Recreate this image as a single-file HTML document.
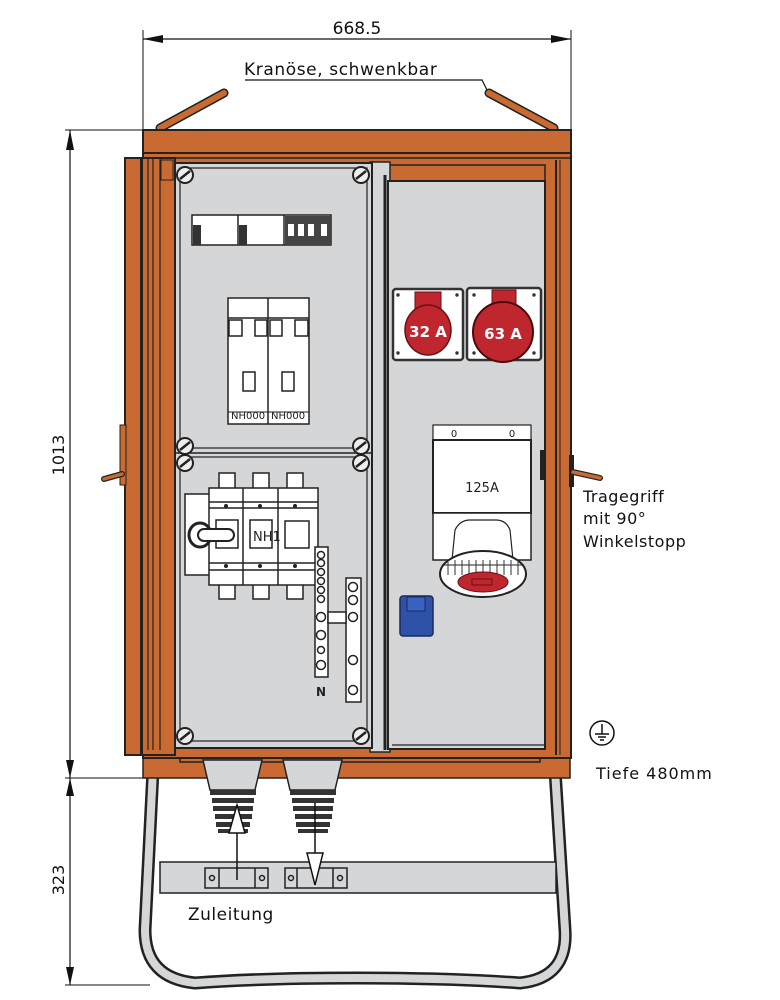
<!DOCTYPE html>
<html><head><meta charset="utf-8"><style>
html,body{margin:0;padding:0;background:#fff}
svg{display:block}
text{font-family:"DejaVu Sans","Liberation Sans",sans-serif}
</style></head><body>
<svg width="780" height="1000" viewBox="0 0 780 1000" xmlns="http://www.w3.org/2000/svg">
<defs>
<g id="scr"><circle r="8" fill="#eee" stroke="#222" stroke-width="2"/><line x1="-5" y1="4" x2="5" y2="-4" stroke="#222" stroke-width="2.5"/></g>
</defs>
<!-- dimension top -->
<line x1="143" y1="39" x2="571" y2="39" stroke="#111" stroke-width="1.2"/>
<polygon points="143,39 163,35 163,43" fill="#111"/>
<polygon points="571,39 551,35 551,43" fill="#111"/>
<line x1="143" y1="30" x2="143" y2="130" stroke="#111" stroke-width="1"/>
<line x1="571" y1="30" x2="571" y2="130" stroke="#111" stroke-width="1"/>
<text x="357" y="34" font-size="17" text-anchor="middle" fill="#111">668.5</text>
<text x="244" y="75" font-size="17" fill="#111" letter-spacing="0.6">Kranöse, schwenkbar</text>
<polyline points="245,80 482,80 487,90" fill="none" stroke="#111" stroke-width="1.2"/>
<!-- lugs -->
<line x1="160" y1="128" x2="224" y2="93" stroke="#222" stroke-width="9" stroke-linecap="round"/>
<line x1="160" y1="128" x2="224" y2="93" stroke="#c96a32" stroke-width="6" stroke-linecap="round"/>
<line x1="489" y1="93" x2="554" y2="128" stroke="#222" stroke-width="9" stroke-linecap="round"/>
<line x1="489" y1="93" x2="554" y2="128" stroke="#c96a32" stroke-width="6" stroke-linecap="round"/>
<!-- left dims -->
<line x1="65" y1="130" x2="143" y2="130" stroke="#111" stroke-width="1"/>
<line x1="70" y1="130" x2="70" y2="985" stroke="#111" stroke-width="1.2"/>
<polygon points="70,130 66,150 74,150" fill="#111"/>
<polygon points="70,778 66,760 74,760" fill="#111"/>
<polygon points="70,778 66,796 74,796" fill="#111"/>
<polygon points="70,985 66,967 74,967" fill="#111"/>
<line x1="65" y1="778" x2="145" y2="778" stroke="#111" stroke-width="1"/>
<line x1="65" y1="985" x2="150" y2="985" stroke="#111" stroke-width="1"/>
<text transform="translate(64,455) rotate(-90)" font-size="16" text-anchor="middle" fill="#111">1013</text>
<text transform="translate(64,880) rotate(-90)" font-size="16" text-anchor="middle" fill="#111">323</text>
<!-- stand tube -->
<path d="M153,770 L145,930 Q145,978 195,983 Q260,978 357,978 Q455,978 520,983 Q568,978 565,930 L555,770" fill="none" stroke="#222" stroke-width="13" stroke-linejoin="round"/>
<path d="M153,770 L145,930 Q145,978 195,983 Q260,978 357,978 Q455,978 520,983 Q568,978 565,930 L555,770" fill="none" stroke="#d4d6d8" stroke-width="8" stroke-linejoin="round"/>
<rect x="160" y="862" width="396" height="31" fill="#d4d6d8" stroke="#222" stroke-width="1.5"/>
<!-- base -->
<polygon points="143,755 570,755 570,778 143,778" fill="#c96a32" stroke="#222" stroke-width="1.5"/>
<rect x="180" y="748" width="360" height="14" fill="#c96a32" stroke="#222" stroke-width="1.5"/>
<!-- body frame -->
<rect x="143" y="150" width="428" height="608" fill="#c96a32" stroke="#222" stroke-width="2"/>
<rect x="143" y="130" width="428" height="23" fill="#c96a32" stroke="#222" stroke-width="2"/>
<line x1="143" y1="158" x2="571" y2="158" stroke="#222" stroke-width="1.5"/>
<!-- right frame lines -->
<line x1="556" y1="160" x2="556" y2="755" stroke="#222" stroke-width="2"/>
<line x1="560" y1="160" x2="560" y2="755" stroke="#222" stroke-width="1"/>
<rect x="388" y="165" width="157" height="16" fill="#c96a32" stroke="#222" stroke-width="1.5"/>
<!-- left door -->
<rect x="125" y="158" width="50" height="597" fill="#c96a32" stroke="#222" stroke-width="2"/>
<rect x="140" y="158" width="3" height="597" fill="#222"/>
<line x1="148" y1="158" x2="148" y2="750" stroke="#222" stroke-width="1.2"/>
<line x1="153" y1="158" x2="153" y2="750" stroke="#222" stroke-width="1.2"/>
<line x1="160" y1="158" x2="160" y2="750" stroke="#222" stroke-width="1.2"/>
<rect x="161" y="160" width="12" height="20" fill="#c96a32" stroke="#222" stroke-width="1"/>
<rect x="120" y="425" width="6" height="60" fill="#c96a32" stroke="#222" stroke-width="1"/>
<line x1="104" y1="479" x2="122" y2="474" stroke="#222" stroke-width="6" stroke-linecap="round"/>
<line x1="104" y1="479" x2="122" y2="474" stroke="#c96a32" stroke-width="3.5" stroke-linecap="round"/>
<!-- center strip -->
<rect x="370" y="162" width="20" height="590" fill="#d4d6d8" stroke="#222" stroke-width="1.5"/>
<line x1="385" y1="175" x2="385" y2="750" stroke="#222" stroke-width="3"/>
<!-- right panel -->
<rect x="388" y="181" width="157" height="568" fill="#d4d6d8" stroke="#222" stroke-width="2"/>
<line x1="392" y1="745" x2="545" y2="745" stroke="#222" stroke-width="1.2"/>
<!-- right handle -->
<rect x="540" y="450" width="6" height="30" fill="#222"/>
<rect x="569" y="455" width="5" height="32" fill="#222"/>
<line x1="573" y1="472" x2="600" y2="478" stroke="#222" stroke-width="6" stroke-linecap="round"/>
<line x1="573" y1="472" x2="600" y2="478" stroke="#c96a32" stroke-width="3.5" stroke-linecap="round"/>
<!-- left panel -->
<rect x="175" y="163" width="197" height="585" fill="#d4d6d8" stroke="#222" stroke-width="2"/>
<rect x="180" y="168" width="187" height="280" fill="none" stroke="#222" stroke-width="1.2"/>
<rect x="180" y="457" width="187" height="284" fill="none" stroke="#222" stroke-width="1.2"/>
<line x1="175" y1="453" x2="372" y2="453" stroke="#222" stroke-width="1.5"/>
<use href="#scr" x="185" y="175"/><use href="#scr" x="361" y="175"/>
<use href="#scr" x="185" y="446"/><use href="#scr" x="361" y="446"/>
<use href="#scr" x="185" y="463"/><use href="#scr" x="361" y="463"/>
<use href="#scr" x="185" y="736"/><use href="#scr" x="361" y="736"/>
<!-- modules strip -->
<rect x="192" y="215" width="139" height="30" fill="#fff" stroke="#222" stroke-width="1.5"/>
<line x1="238" y1="215" x2="238" y2="245" stroke="#222" stroke-width="1.5"/>
<line x1="284" y1="215" x2="284" y2="245" stroke="#222" stroke-width="1.5"/>
<rect x="193" y="225" width="8" height="20" fill="#333"/>
<rect x="239" y="225" width="8" height="20" fill="#333"/>
<rect x="285" y="216" width="46" height="29" fill="#444"/>
<rect x="288" y="224" width="6" height="12" fill="#fff"/><rect x="298" y="224" width="6" height="12" fill="#fff"/><rect x="308" y="224" width="6" height="12" fill="#fff"/><rect x="321" y="224" width="6" height="12" fill="#fff"/>
<!-- NH000 -->
<rect x="228" y="298" width="81" height="126" fill="#fff" stroke="#222" stroke-width="1.5"/>
<line x1="268" y1="298" x2="268" y2="424" stroke="#222" stroke-width="1.5"/>
<line x1="228" y1="318" x2="309" y2="318" stroke="#222" stroke-width="1.5"/>
<rect x="229" y="320" width="13" height="16" fill="none" stroke="#222" stroke-width="1.5"/>
<rect x="255" y="320" width="12" height="16" fill="none" stroke="#222" stroke-width="1.5"/>
<rect x="270" y="320" width="12" height="16" fill="none" stroke="#222" stroke-width="1.5"/>
<rect x="295" y="320" width="13" height="16" fill="none" stroke="#222" stroke-width="1.5"/>
<rect x="243" y="372" width="12" height="19" fill="none" stroke="#222" stroke-width="1.5"/>
<rect x="282" y="372" width="12" height="19" fill="none" stroke="#222" stroke-width="1.5"/>
<line x1="228" y1="412" x2="309" y2="412" stroke="#222" stroke-width="1"/>
<text x="231" y="419" font-size="10" fill="#222" font-family="Liberation Sans Narrow,Liberation Sans,sans-serif">NH000</text>
<text x="271" y="419" font-size="10" fill="#222" font-family="Liberation Sans Narrow,Liberation Sans,sans-serif">NH000</text>
<!-- switch -->
<g stroke="#222" stroke-width="1.5">
<rect x="219" y="473" width="16" height="18" fill="#fff"/><rect x="253" y="473" width="16" height="18" fill="#fff"/><rect x="287" y="473" width="16" height="18" fill="#fff"/>
<rect x="219" y="582" width="16" height="17" fill="#fff"/><rect x="253" y="582" width="16" height="17" fill="#fff"/><rect x="287" y="582" width="16" height="17" fill="#fff"/>
<rect x="185" y="494" width="27" height="81" fill="#fff"/>
<rect x="209" y="488" width="109" height="97" fill="#fff"/>
<line x1="243" y1="488" x2="243" y2="585"/><line x1="278" y1="488" x2="278" y2="585"/>
<line x1="209" y1="502" x2="318" y2="502"/><line x1="209" y1="508" x2="318" y2="508"/>
<line x1="209" y1="563" x2="318" y2="563"/><line x1="209" y1="570" x2="318" y2="570"/>
<rect x="250" y="520" width="22" height="28" fill="#fff"/>
<rect x="285" y="521" width="24" height="27" fill="#fff"/>
<rect x="216" y="520" width="22" height="28" fill="#fff"/>
</g>
<ellipse cx="200" cy="535" rx="11" ry="12" fill="none" stroke="#222" stroke-width="3"/>
<rect x="198" y="529" width="36" height="12" rx="6" fill="#fff" stroke="#222" stroke-width="2"/>
<text x="253" y="541" font-size="13" fill="#222" font-family="Liberation Sans Narrow,Liberation Sans,sans-serif">NH1</text>
<circle cx="226" cy="506" r="2" fill="#222"/><circle cx="260" cy="506" r="2" fill="#222"/><circle cx="295" cy="506" r="2" fill="#222"/>
<circle cx="226" cy="566" r="2" fill="#222"/><circle cx="260" cy="566" r="2" fill="#222"/><circle cx="295" cy="566" r="2" fill="#222"/>
<!-- N / PE bars -->
<rect x="315" y="547" width="13" height="130" fill="#fff" stroke="#222" stroke-width="1.5"/>
<rect x="346" y="578" width="15" height="124" fill="#fff" stroke="#222" stroke-width="1.5"/>
<rect x="328" y="612" width="18" height="11" fill="#fff" stroke="#222" stroke-width="1.5"/>
<g fill="#fff" stroke="#222" stroke-width="1.5">
<circle cx="321" cy="555" r="3.5"/><circle cx="321" cy="563" r="3.5"/><circle cx="321" cy="572" r="3.5"/><circle cx="321" cy="581" r="3.5"/><circle cx="321" cy="590" r="3.5"/><circle cx="321" cy="599" r="3.5"/>
<circle cx="321" cy="617" r="4.5"/><circle cx="321" cy="635" r="4.5"/><circle cx="321" cy="650" r="3.5"/><circle cx="321" cy="665" r="4.5"/>
<circle cx="353" cy="587" r="4.5"/><circle cx="353" cy="600" r="4.5"/><circle cx="353" cy="617" r="4.5"/><circle cx="353" cy="660" r="4.5"/><circle cx="353" cy="690" r="4.5"/>
</g>
<text x="316" y="696" font-size="12" font-weight="bold" fill="#222" font-family="Liberation Sans Narrow,Liberation Sans,sans-serif">N</text>
<!-- 32A -->
<rect x="393" y="289" width="70" height="71" rx="3" fill="#fff" stroke="#333" stroke-width="2.5"/>
<rect x="415" y="292" width="26" height="22" fill="#c0262e" stroke="#6a1015" stroke-width="1"/>
<ellipse cx="428" cy="330" rx="23" ry="25" fill="#c0262e" stroke="#6a1015" stroke-width="1.5"/>
<text x="428" y="337" font-size="15" font-weight="bold" fill="#fff" text-anchor="middle" font-family="Liberation Sans,sans-serif">32 A</text>
<!-- 63A -->
<rect x="467" y="288" width="74" height="72" rx="3" fill="#fff" stroke="#333" stroke-width="2.5"/>
<rect x="492" y="290" width="24" height="16" fill="#c0262e" stroke="#6a1015" stroke-width="1"/>
<circle cx="503" cy="332" r="30" fill="#c0262e" stroke="#4a0a0e" stroke-width="2"/>
<text x="503" y="339" font-size="15" font-weight="bold" fill="#fff" text-anchor="middle" font-family="Liberation Sans,sans-serif">63 A</text>
<g fill="#333"><circle cx="398" cy="295" r="1.7"/><circle cx="457" cy="295" r="1.7"/><circle cx="398" cy="353" r="1.7"/><circle cx="457" cy="353" r="1.7"/><circle cx="474" cy="295" r="1.7"/><circle cx="534" cy="295" r="1.7"/><circle cx="474" cy="353" r="1.7"/><circle cx="534" cy="353" r="1.7"/></g>
<!-- 125A -->
<rect x="433" y="425" width="98" height="15" fill="#fff" stroke="#222" stroke-width="1.2"/>
<text x="454" y="437" font-size="10" fill="#222" text-anchor="middle">0</text>
<text x="512" y="437" font-size="10" fill="#222" text-anchor="middle">0</text>
<rect x="433" y="440" width="98" height="73" fill="#fff" stroke="#222" stroke-width="2"/>
<text x="482" y="492" font-size="13" fill="#222" text-anchor="middle" font-family="Liberation Sans Narrow,Liberation Sans,sans-serif">125A</text>
<rect x="433" y="513" width="98" height="47" fill="#fff" stroke="#222" stroke-width="1.5"/>
<path d="M452,560 L455,530 Q460,520 470,520 L496,520 Q506,520 510,530 L513,560" fill="#fff" stroke="#222" stroke-width="1.2"/>
<ellipse cx="483" cy="574" rx="43" ry="23" fill="#fff" stroke="#222" stroke-width="2"/>
<path d="M442,565 L524,565" stroke="#222" stroke-width="1"/>
<g stroke="#333" stroke-width="1"><line x1="448" y1="562" x2="448" y2="575"/><line x1="455" y1="560" x2="455" y2="575"/><line x1="462" y1="560" x2="462" y2="575"/><line x1="469" y1="560" x2="469" y2="575"/><line x1="476" y1="560" x2="476" y2="575"/><line x1="483" y1="560" x2="483" y2="575"/><line x1="490" y1="560" x2="490" y2="575"/><line x1="497" y1="560" x2="497" y2="575"/><line x1="504" y1="560" x2="504" y2="575"/><line x1="511" y1="560" x2="511" y2="575"/><line x1="518" y1="562" x2="518" y2="575"/></g>
<ellipse cx="483" cy="582" rx="25" ry="10" fill="#c0262e" stroke="#6a1015" stroke-width="1"/>
<rect x="472" y="579" width="20" height="6" fill="none" stroke="#6a1015" stroke-width="1"/>
<!-- blue socket -->
<rect x="400" y="596" width="33" height="40" rx="3" fill="#2e52a8" stroke="#1a2a5a" stroke-width="1.5"/>
<rect x="407" y="597" width="18" height="14" fill="#3a62c0" stroke="#1a2a5a" stroke-width="1"/>
<!-- glands -->
<g stroke="#222" stroke-width="1.5" fill="#d4d6d8">
<polygon points="203,760 262,760 255,790 210,790"/>
<polygon points="283,760 342,760 335,790 290,790"/>
</g>
<g fill="#333">
<rect x="210" y="790" width="46" height="5"/><rect x="212" y="798" width="42" height="5"/><rect x="213" y="806" width="40" height="5"/><rect x="215" y="814" width="37" height="5"/><rect x="216" y="822" width="34" height="5"/><rect x="218" y="829" width="30" height="4"/>
<rect x="290" y="790" width="46" height="5"/><rect x="292" y="798" width="42" height="5"/><rect x="293" y="806" width="40" height="5"/><rect x="295" y="814" width="37" height="5"/><rect x="296" y="822" width="34" height="5"/><rect x="298" y="829" width="30" height="4"/>
</g>
<!-- clamps -->
<g stroke="#222" stroke-width="1.5" fill="#d4d6d8">
<rect x="205" y="868" width="63" height="20"/><line x1="219" y1="868" x2="219" y2="888"/><line x1="255" y1="868" x2="255" y2="888"/>
<rect x="285" y="868" width="62" height="20"/><line x1="297" y1="868" x2="297" y2="888"/><line x1="333" y1="868" x2="333" y2="888"/>
<circle cx="212" cy="878" r="2.5" fill="none"/><circle cx="262" cy="878" r="2.5" fill="none"/><circle cx="291" cy="878" r="2.5" fill="none"/><circle cx="340" cy="878" r="2.5" fill="none"/>
</g>
<!-- arrows -->
<line x1="237" y1="880" x2="237" y2="805" stroke="#111" stroke-width="1.5"/>
<polygon points="237,805 229,833 245,833" fill="#fff" stroke="#111" stroke-width="1.5"/>
<line x1="315" y1="803" x2="315" y2="885" stroke="#111" stroke-width="1.5"/>
<polygon points="315,885 307,853 323,853" fill="#fff" stroke="#111" stroke-width="1.5"/>
<text x="188" y="920" font-size="17" fill="#111" letter-spacing="0.5">Zuleitung</text>
<!-- right labels -->
<text x="583" y="502" font-size="16" fill="#111" letter-spacing="0.5">Tragegriff</text>
<text x="583" y="524" font-size="16" fill="#111" letter-spacing="0.5">mit 90°</text>
<text x="583" y="547" font-size="16" fill="#111" letter-spacing="0.5">Winkelstopp</text>
<circle cx="602" cy="733" r="12" fill="none" stroke="#111" stroke-width="1.5"/>
<line x1="602" y1="724" x2="602" y2="734" stroke="#111" stroke-width="1.5"/>
<line x1="595" y1="734" x2="609" y2="734" stroke="#111" stroke-width="1.5"/>
<line x1="598" y1="737" x2="606" y2="737" stroke="#111" stroke-width="1.5"/>
<line x1="600" y1="740" x2="604" y2="740" stroke="#111" stroke-width="1.5"/>
<text x="596" y="779" font-size="16" fill="#111" letter-spacing="1">Tiefe 480mm</text>
</svg>
</body></html>
